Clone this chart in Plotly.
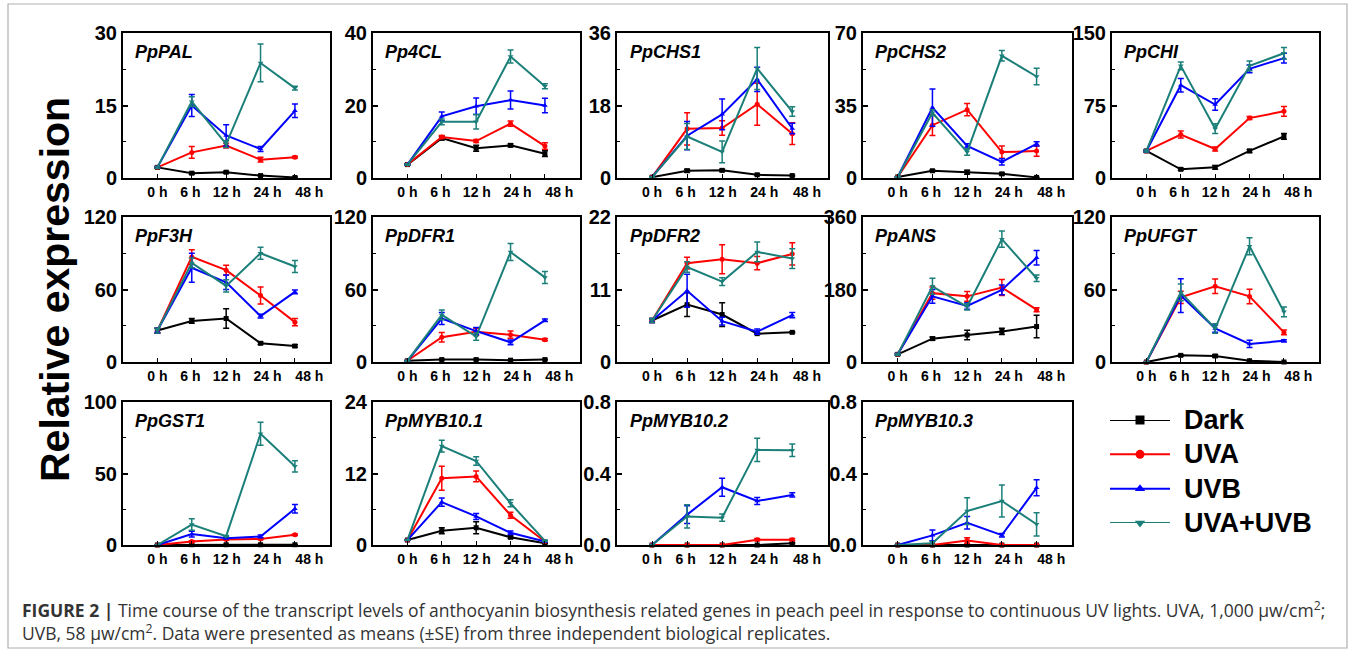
import plotly.graph_objects as go

# ---------------- data ----------------
times = ["0 h", "6 h", "12 h", "24 h", "48 h"]
x_pos = [0, 1, 2, 3, 4]
treatments = ["Dark", "UVA", "UVB", "UVA+UVB"]

genes = ["PpPAL", "Pp4CL", "PpCHS1", "PpCHS2", "PpCHI",
         "PpF3H", "PpDFR1", "PpDFR2", "PpANS", "PpUFGT",
         "PpGST1", "PpMYB10.1", "PpMYB10.2", "PpMYB10.3"]
y_max = [30, 40, 36, 70, 150, 120, 120, 22, 360, 120, 100, 24, 0.8, 0.8]

# means per treatment (Dark, UVA, UVB, UVA+UVB) and SE
pal_mean = [[2.2, 1.0, 1.2, 0.5, 0.1], [2.2, 5.3, 6.7, 3.8, 4.3],
            [2.2, 15.0, 8.8, 6.0, 13.9], [2.2, 15.8, 7.0, 23.8, 18.6]]
pal_se = [[0.1, 0.2, 0.2, 0.1, 0.1], [0.2, 1.2, 0.5, 0.5, 0.2],
          [0.2, 2.3, 2.2, 0.5, 1.4], [0.2, 1.0, 0.7, 3.9, 0.4]]

cl4_mean = [[3.7, 11.0, 8.2, 9.0, 6.7], [3.7, 11.3, 10.2, 15.0, 8.8],
            [3.7, 17.0, 19.8, 21.5, 20.0], [3.7, 15.5, 15.5, 33.5, 25.3]]
cl4_se = [[0.2, 0.5, 0.8, 0.4, 0.8], [0.2, 0.4, 0.4, 0.7, 0.9],
          [0.2, 1.2, 2.3, 2.5, 2.0], [0.2, 0.8, 2.0, 1.8, 0.7]]

chs1_mean = [[0.2, 1.8, 1.9, 0.8, 0.6], [0.2, 12.2, 12.4, 18.3, 11.0],
             [0.2, 10.5, 15.8, 24.5, 12.3], [0.2, 10.3, 6.5, 27.2, 16.5]]
chs1_se = [[0.1, 0.4, 0.3, 0.2, 0.1], [0.1, 4.0, 1.8, 5.2, 2.7],
           [0.1, 3.5, 3.8, 3.0, 1.3], [0.1, 3.2, 2.7, 5.2, 1.2]]

chs2_mean = [[0.5, 3.5, 2.8, 2.0, 0.3], [0.5, 25.5, 33.0, 12.5, 13.0],
             [0.5, 34.0, 15.5, 7.8, 16.5], [0.5, 31.5, 12.5, 59.0, 49.0]]
chs2_se = [[0.1, 0.4, 1.0, 0.5, 0.1], [0.1, 5.0, 3.0, 3.0, 2.5],
           [0.1, 9.0, 1.0, 1.5, 1.0], [0.1, 1.5, 1.5, 2.5, 4.0]]

chi_mean = [[28, 9, 11, 28, 43], [28, 45, 30, 62, 69],
            [28, 96, 76, 113, 124], [28, 116, 51, 116, 129]]
chi_se = [[1, 1, 2, 1.5, 3], [1, 3.5, 2, 1.5, 5],
          [1, 7, 6, 4, 5], [1, 4, 5, 5, 6]]

f3h_mean = [[26, 34, 36, 15.5, 13.2], [26, 87, 76, 55, 33],
            [26, 78, 66, 38, 58], [26, 82, 63, 90, 79]]
f3h_se = [[2, 2, 8, 1, 1], [2, 6, 4, 7, 3],
          [2, 12, 6, 1.5, 1.5], [2, 4, 5, 5, 5]]

dfr1_mean = [[1, 2, 2, 1.5, 2], [1, 20.5, 25, 22.6, 18.5],
             [1, 36, 25.6, 16.3, 34.5], [1, 39, 21, 91, 70]]
dfr1_se = [[0.3, 0.3, 0.3, 0.3, 0.3], [0.3, 4, 3, 3, 1],
           [0.3, 5, 3, 2, 1], [0.3, 4, 3, 7, 5]]

dfr2_mean = [[6.3, 8.7, 7.2, 4.3, 4.5], [6.3, 15.0, 15.6, 15.0, 16.4],
             [6.3, 10.8, 6.2, 4.6, 7.1], [6.3, 14.4, 12.2, 16.7, 15.7]]
dfr2_se = [[0.3, 1.8, 1.8, 0.1, 0.1], [0.3, 0.9, 2.2, 1.0, 1.7],
           [0.3, 2.5, 0.6, 0.4, 0.4], [0.3, 0.8, 0.6, 1.5, 1.5]]

ans_mean = [[19, 58, 67, 76, 88], [19, 171, 163, 185, 130],
            [19, 163, 139, 179, 259], [19, 188, 137, 305, 208]]
ans_se = [[2, 4, 12, 8, 28], [2, 15, 12, 20, 5],
          [2, 17, 8, 12, 18], [2, 20, 8, 20, 8]]

ufgt_mean = [[0, 5.5, 5, 1, 0], [0, 53.5, 62.6, 54.3, 24.5],
             [0, 55, 27.7, 15, 17.5], [0, 57.6, 27.7, 95.8, 41.5]]
ufgt_se = [[0, 0.5, 1, 0.3, 0], [0, 5, 6, 6, 2],
           [0, 14, 3, 3, 1], [0, 7, 4, 7, 4]]

gst1_mean = [[0, 0.2, 0.2, 0.2, 0.2], [0, 2.5, 3.9, 4.2, 7.2],
             [0, 7.6, 4.8, 6.0, 25.4], [0, 14.3, 6.2, 77.8, 55.0]]
gst1_se = [[0, 0.1, 0.1, 0.1, 0.1], [0, 0.5, 0.5, 0.5, 0.5],
           [0, 2.0, 0.5, 1.0, 3.0], [0, 4.0, 0.5, 8.0, 4.0]]

myb101_mean = [[0.83, 2.4, 2.9, 1.3, 0.3], [0.83, 11.2, 11.5, 5.0, 0.6],
               [0.83, 7.2, 4.8, 2.05, 0.6], [0.83, 16.6, 14.1, 7.0, 0.7]]
myb101_se = [[0.05, 0.5, 1.0, 0.2, 0.1], [0.05, 2.0, 0.9, 0.5, 0.1],
             [0.05, 0.7, 0.5, 0.3, 0.1], [0.05, 1.0, 0.7, 0.6, 0.1]]

myb102_mean = [[0, 0, 0, 0, 0.01], [0, 0, 0, 0.03, 0.03],
               [0, 0.17, 0.323, 0.246, 0.28], [0, 0.16, 0.153, 0.532, 0.53]]
myb102_se = [[0, 0, 0, 0, 0.003], [0, 0, 0, 0.006, 0.006],
             [0, 0.05, 0.05, 0.02, 0.012], [0, 0.065, 0.02, 0.065, 0.035]]

myb103_mean = [[0, 0, 0, 0, 0], [0, 0, 0.025, 0, 0],
               [0, 0.054, 0.124, 0.055, 0.32], [0, 0.01, 0.19, 0.246, 0.116]]
myb103_se = [[0, 0, 0, 0, 0], [0, 0, 0.015, 0, 0],
             [0, 0.03, 0.035, 0.01, 0.045], [0, 0.01, 0.075, 0.09, 0.065]]

means = [pal_mean, cl4_mean, chs1_mean, chs2_mean, chi_mean,
         f3h_mean, dfr1_mean, dfr2_mean, ans_mean, ufgt_mean,
         gst1_mean, myb101_mean, myb102_mean, myb103_mean]
ses = [pal_se, cl4_se, chs1_se, chs2_se, chi_se,
       f3h_se, dfr1_se, dfr2_se, ans_se, ufgt_se,
       gst1_se, myb101_se, myb102_se, myb103_se]

# ---------------- styling ----------------
W, H = 1355, 654
colors = ["#000000", "#ff0000", "#0000ff", "#1b7f79"]
symbols = ["square", "circle", "triangle-up", "triangle-down"]
label_pos = [0, 0.96, 2.02, 3.2, 4.42]  # x tick label placement (as in original)

col_px = [(123, 330), (373, 580), (617, 828), (863, 1072), (1112, 1319)]
row_px = [(33, 178), (217, 362), (402, 545)]

FONT = "Liberation Sans"

fig = go.Figure()
layout = {}
annotations = []

for i, gene in enumerate(genes):
    r, c = divmod(i, 5)
    n = i + 1
    xa = "xaxis" if n == 1 else f"xaxis{n}"
    ya = "yaxis" if n == 1 else f"yaxis{n}"
    xr = "x" if n == 1 else f"x{n}"
    yr = "y" if n == 1 else f"y{n}"
    x0, x1 = col_px[c]
    y0, y1 = row_px[r]
    ym = y_max[i]
    layout[xa] = dict(
        domain=[x0 / W, x1 / W], anchor=yr, range=[-1.0, 5.02], automargin=False,
        tickmode="array", tickvals=label_pos, ticktext=times, ticks="",
        tickfont=dict(family=FONT, size=14, color="black", weight="bold"),
        showline=True, mirror=True, linecolor="black", linewidth=2,
        showgrid=False, zeroline=False,
        minor=dict(tickmode="array", tickvals=x_pos, ticks="inside",
                   ticklen=4, tickwidth=1.2, tickcolor="black"),
    )
    fmt = ".1f" if ym < 1 else "d"
    layout[ya] = dict(
        domain=[1 - y1 / H, 1 - y0 / H], anchor=xr, range=[0, ym], automargin=False,
        tickmode="array", tickvals=[0, ym / 2, ym], tickformat=fmt,
        ticks="inside", ticklen=5, tickwidth=1.5, tickcolor="black",
        tickfont=dict(family=FONT, size=20, color="black", weight="bold"),
        showline=True, mirror=True, linecolor="black", linewidth=2,
        showgrid=False, zeroline=False,
        minor=dict(tickmode="array", tickvals=[ym / 4, 3 * ym / 4],
                   ticks="inside", ticklen=3, tickwidth=1.2, tickcolor="black"),
    )
    annotations.append(dict(
        text=f"<b><i>{gene}</i></b>", xref=f"{xr} domain", yref=f"{yr} domain",
        x=0.05, y=0.95, xanchor="left", yanchor="top", showarrow=False,
        font=dict(family=FONT, size=18, color="black"),
    ))
    for k, t in enumerate(treatments):
        fig.add_trace(go.Scatter(
            x=x_pos, y=means[i][k], xaxis=xr, yaxis=yr,
            mode="lines+markers", name=t, showlegend=False,
            line=dict(color=colors[k], width=2),
            marker=dict(symbol=symbols[k], size=5, color=colors[k]),
            error_y=dict(type="data", array=ses[i][k], visible=True,
                         color=colors[k], thickness=1.5, width=3),
            cliponaxis=False,
        ))

# ---------------- legend (drawn in its own hidden axes) ----------------
leg_top, leg_bot = 420, 523
leg_rows = list(range(len(treatments)))
layout["xaxis15"] = dict(domain=[1110 / W, 1170 / W], anchor="y15", range=[0, 1],
                         visible=False, automargin=False, fixedrange=True)
layout["yaxis15"] = dict(domain=[1 - leg_bot / H, 1 - leg_top / H], anchor="x15",
                         range=[leg_rows[-1], leg_rows[0]], visible=False,
                         automargin=False, fixedrange=True)
step = (leg_bot - leg_top) / (len(treatments) - 1)
for k, t in enumerate(treatments):
    fig.add_trace(go.Scatter(
        x=[0, 0.5, 1], y=[leg_rows[k]] * 3, xaxis="x15", yaxis="y15",
        mode="lines", showlegend=False, hoverinfo="skip",
        line=dict(color=colors[k], width=2), cliponaxis=False,
    ))
    fig.add_trace(go.Scatter(
        x=[0.5], y=[leg_rows[k]], xaxis="x15", yaxis="y15",
        mode="markers", showlegend=False, hoverinfo="skip",
        marker=dict(symbol=symbols[k], size=9, color=colors[k]), cliponaxis=False,
    ))
    annotations.append(dict(
        text=f"<b>{t}</b>", xref="paper", yref="paper",
        x=1182 / W, y=1 - (leg_top + k * step) / H,
        xanchor="left", yanchor="middle", showarrow=False,
        font=dict(family=FONT, size=27, color="black"),
    ))

# y axis title
annotations.append(dict(
    text="<b>Relative expression</b>", xref="paper", yref="paper",
    x=55 / W, y=1 - 290 / H, xanchor="center", yanchor="middle",
    textangle=-90, showarrow=False,
    font=dict(family=FONT, size=41, color="black"),
))

# caption
cap1 = ("<b>FIGURE 2 |</b> Time course of the transcript levels of anthocyanin biosynthesis "
        "related genes in peach peel in response to continuous UV lights. UVA, 1,000 \u03bcw/cm<sup>2</sup>;")
cap2 = ("UVB, 58 \u03bcw/cm<sup>2</sup>. Data were presented as means (\u00b1SE) from three "
        "independent biological replicates.")
annotations.append(dict(text=cap1, xref="paper", yref="paper", x=20 / W, y=1 - 609 / H,
                        xanchor="left", yanchor="middle", showarrow=False,
                        font=dict(family="Open Sans", size=17.5, color="#333333")))
annotations.append(dict(text=cap2, xref="paper", yref="paper", x=20 / W, y=1 - 632 / H,
                        xanchor="left", yanchor="middle", showarrow=False,
                        font=dict(family="Open Sans", size=17.5, color="#333333")))

fig.update_layout(
    **layout,
    template="none",
    annotations=annotations,
    width=W, height=H,
    margin=dict(l=0, r=0, t=0, b=0, autoexpand=False),
    paper_bgcolor="white", plot_bgcolor="white",
    showlegend=False,
    shapes=[dict(type="rect", xref="paper", yref="paper",
                 x0=8 / W, x1=1347 / W, y0=1 - 648 / H, y1=1 - 4 / H,
                 line=dict(color="#b0b0b0", width=1.2))],
)

fig.write_html("out.html", config={"displayModeBar": False},
               post_script="document.body.style.margin='0';document.body.style.overflow='hidden';")
